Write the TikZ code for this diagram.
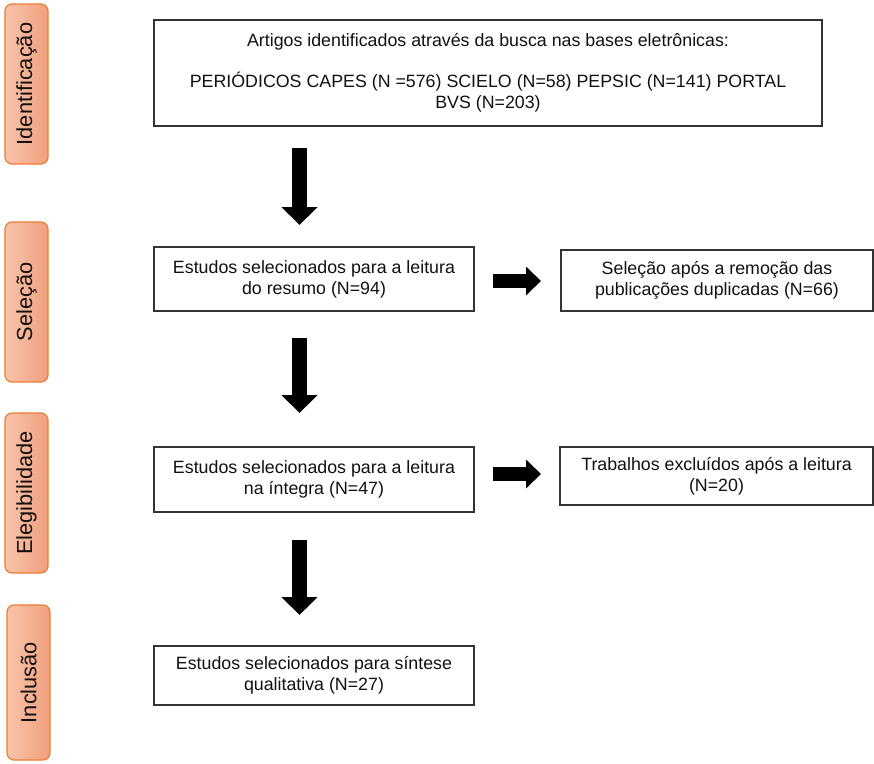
\documentclass[tikz,border=0pt]{standalone}
\usepackage{fontspec}
\setmainfont{Liberation Sans}
\usetikzlibrary{arrows.meta}
\definecolor{boxline}{HTML}{333333}
\definecolor{phaseline}{HTML}{ED7D31}
\definecolor{phaseleft}{HTML}{F9C4AA}
\definecolor{phaseright}{HTML}{F0A07E}
\definecolor{txt}{HTML}{111111}
\tikzset{
  flowbox/.style={draw=boxline, line width=1.3pt, fill=white, align=center, inner sep=2pt,
    text=txt, font=\fontsize{17.8}{21}\selectfont},
  phase/.style={draw=phaseline, line width=1.2pt, rounded corners=7pt,
    left color=phaseleft, right color=phaseright, text=txt,
    font=\fontsize{21.8}{24}\selectfont},
  phaselabel/.style={rotate=90, text=txt, font=\fontsize{21.8}{24}\selectfont},
  downarrow/.style={line width=15pt, -{Triangle[width=35pt,length=18pt]}},
  rightarrow/.style={line width=14pt, -{Triangle[width=28pt,length=15pt]}}
}
\begin{document}
\begin{tikzpicture}[x=1pt,y=-1pt]
\useasboundingbox (0,0) rectangle (874,763);

% phase labels
\node[phase, minimum width=43pt, minimum height=160pt] (p1) at (26.5,84) {};
\node[phaselabel] (p1t) at (p1.center) {Identificação};
\node[phase, minimum width=43pt, minimum height=160pt] (p2) at (26.5,302) {};
\node[phaselabel] (p2t) at (p2.center) {Seleção};
\node[phase, minimum width=43pt, minimum height=160pt] (p3) at (26.5,493) {};
\node[phaselabel] (p3t) at (p3.center) {Elegibilidade};
\node[phase, minimum width=43pt, minimum height=155pt] (p4) at (28.5,682.5) {};
\node[phaselabel] (p4t) at (p4.center) {Inclusão};

% boxes
\node[flowbox, minimum width=668pt, minimum height=106pt] (top) at (488,73)
  {Artigos identificados através da busca nas bases eletrônicas:\\[20pt]
   PERIÓDICOS CAPES (N =576) SCIELO (N=58) PEPSIC (N=141) PORTAL\\
   BVS (N=203)};
\node[flowbox, minimum width=320pt, minimum height=64pt] (sel) at (314,279)
  {Estudos selecionados para a leitura\\do resumo (N=94)};
\node[flowbox, minimum width=312pt, minimum height=61pt] (dup) at (717,280.5)
  {Seleção após a remoção das\\publicações duplicadas (N=66)};
\node[flowbox, minimum width=320pt, minimum height=65pt] (int) at (314,479.5)
  {Estudos selecionados para a leitura\\na íntegra (N=47)};
\node[flowbox, minimum width=313pt, minimum height=58pt] (exc) at (716.5,476)
  {Trabalhos excluídos após a leitura\\(N=20)};
\node[flowbox, minimum width=320pt, minimum height=59pt] (sin) at (314,675.5)
  {Estudos selecionados para síntese\\qualitativa (N=27)};

% arrow end points
\coordinate (d1s) at (299.5,148);
\coordinate (d1e) at (299.5,225);
\coordinate (d2s) at (299.5,338);
\coordinate (d2e) at (299.5,413);
\coordinate (d3s) at (299.5,540);
\coordinate (d3e) at (299.5,615);
\coordinate (r1s) at (493,281);
\coordinate (r1e) at (541,281);
\coordinate (r2s) at (493,474);
\coordinate (r2e) at (541,474);

\draw[downarrow] (d1s) -- (d1e);
\draw[downarrow] (d2s) -- (d2e);
\draw[downarrow] (d3s) -- (d3e);
\draw[rightarrow] (r1s) -- (r1e);
\draw[rightarrow] (r2s) -- (r2e);
\end{tikzpicture}
\end{document}
